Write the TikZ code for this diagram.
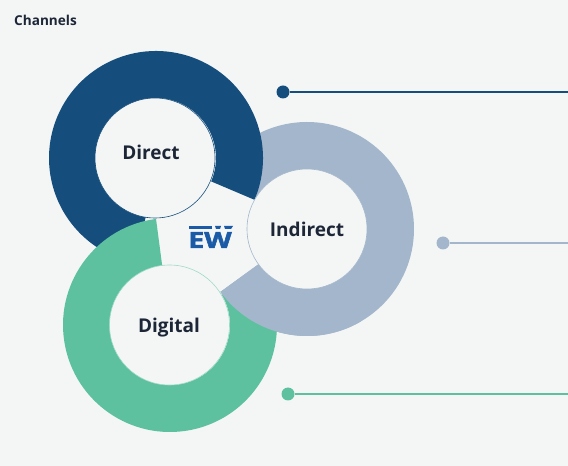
\documentclass[tikz,border=0pt]{standalone}
\usepackage{fontspec}
\setmainfont{Open Sans}
\newfontfamily\logofont[BoldFeatures={FakeBold=2}]{Open Sans}
\definecolor{bgc}{HTML}{F4F6F6}
\definecolor{dirc}{HTML}{154E7C}
\definecolor{indc}{HTML}{A3B6CB}
\definecolor{digc}{HTML}{5DC1A0}
\definecolor{logoc}{HTML}{1A5AA6}
\definecolor{titlec}{HTML}{1D2636}
\newcommand{\ringsec}[6]{\fill[#1] (#2,#3) ++(#4:107) arc[start angle=#4,end angle=#5,radius=107] -- ++(#6:-47) arc[start angle=#5,end angle=#4,radius=60] -- cycle;}
\tikzset{
  hub/.style={circle,fill=bgc,draw=#1,line width=.6pt,minimum size=120pt,inner sep=0pt},
  hublabel/.style={font=\fontsize{19}{20}\selectfont\bfseries,text=titlec,inner sep=0pt},
  dotn/.style={circle,fill=#1,minimum size=13pt,inner sep=0pt},
  lead/.style={draw=#1,line width=1.6pt}
}
\begin{document}
\begin{tikzpicture}[x=1pt,y=1pt]
\useasboundingbox (0,0) rectangle (568,466);
\fill[bgc] (0,0) rectangle (568,466);
\node[anchor=west,font=\fontsize{13.6}{14}\selectfont\bfseries,text=titlec,inner sep=0pt] (title) at (14,446) {Channels};
% rings
\ringsec{indc}{307}{237}{-144}{148}{148}
\ringsec{dirc}{156}{308}{-23}{260}{260}
\ringsec{digc}{170}{141}{97.5}{390}{390}
\ringsec{indc}{307}{237}{-144}{-60}{-60}
% hubs
\node[hub=dirc] (direct) at (155,308) {};
\node[hub=digc!60] (digital) at (169.5,141) {};
\node[hub=indc] (indirect) at (307,237) {};
\node[hublabel] (directt) at (151,314) {Direct};
\node[hublabel] (digitalt) at (169,138.5) {Digital};
\node[hublabel] (indirectt) at (307,237) {Indirect};
% logo
\node[font=\fontsize{22.4}{24}\selectfont\logofont\bfseries,text=logoc,inner sep=0pt,anchor=base] (logo) at (210,218) {\scalebox{1.27}[1]{EW}};
\fill[logoc] (189,240) rectangle (212,237);
\fill[logoc] (215,240) -- (221,240) -- (220,237) -- (216,237) -- cycle;
\fill[logoc] (224,240) -- (233,240) -- (231,237) -- (225,237) -- cycle;
% leaders
\node[dotn=dirc] (d1) at (283,374) {};
\node[dotn=indc] (d2) at (443,223) {};
\node[dotn=digc] (d3) at (288,72) {};
\coordinate (e1) at (568,374);
\coordinate (e2) at (568,223);
\coordinate (e3) at (568,72);
\draw[lead=dirc] (d1) -- (e1);
\draw[lead=indc] (d2) -- (e2);
\draw[lead=digc] (d3) -- (e3);
\end{tikzpicture}
\end{document}
